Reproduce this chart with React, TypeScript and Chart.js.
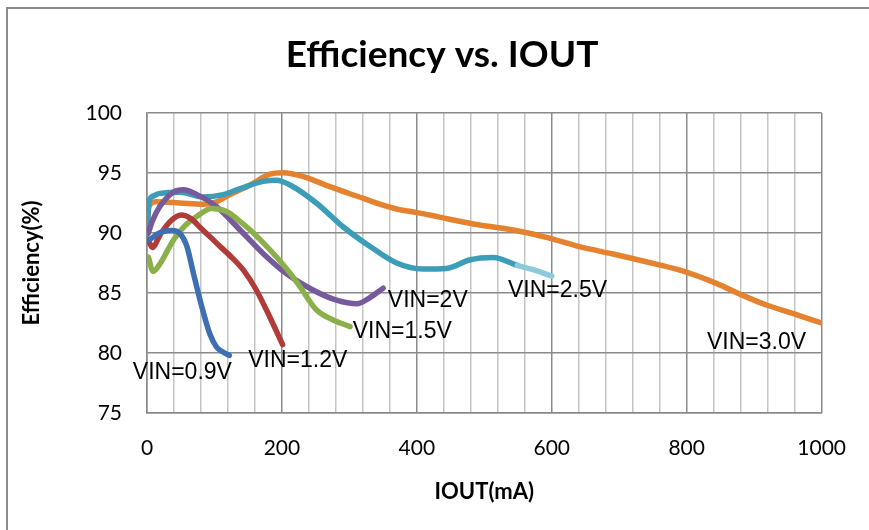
import React, { useEffect, useRef } from "react";
import { Chart, registerables } from "chart.js";

Chart.register(...registerables);

// ---- data ----
const titleText = "Efficiency vs. IOUT";
const xTitle = "IOUT(mA)";
const yTitle = "Efficiency(%)";

const seriesNames = ["VIN=0.9V", "VIN=1.2V", "VIN=1.5V", "VIN=2V", "VIN=2.5V", "VIN=3.0V"];

const iout09 = [2, 8, 15, 25, 37, 49, 59, 69, 81, 93, 103, 112, 122];
const eff09 = [89.4, 89.6, 89.9, 90.15, 90.2, 89.95, 88.9, 86.6, 83.9, 81.6, 80.5, 80.1, 79.8];

const iout12 = [2, 8, 20, 35, 51, 65, 80, 95, 108, 125, 143, 162, 182, 201];
const eff12 = [89.4, 88.8, 89.9, 91.0, 91.5, 91.2, 90.4, 89.6, 88.9, 88.0, 86.9, 85.25, 83.0, 80.7];

const iout15 = [2, 9, 20, 39, 56, 74, 96, 118, 135, 153, 172, 192, 210, 227, 251, 276, 301];
const eff15 = [88.0, 86.8, 87.5, 89.4, 90.6, 91.4, 92.05, 91.8, 91.1, 90.25, 89.2, 88.0, 86.8, 85.5, 83.6, 82.75, 82.2];

const iout20 = [2, 8, 19, 39, 54, 74, 103, 138, 172, 207, 246, 281, 311, 330, 350];
const eff20 = [90.0, 91.0, 92.2, 93.4, 93.6, 93.2, 92.2, 90.25, 88.3, 86.6, 85.25, 84.4, 84.1, 84.6, 85.4];

const iout25 = [0, 3, 10, 19, 49, 83, 113, 138, 172, 192, 212, 251, 291, 330, 370, 409, 444, 478, 513, 549, 575, 600];
const eff25 = [89.8, 92.6, 93.1, 93.3, 93.4, 93.0, 93.2, 93.7, 94.3, 94.4, 94.0, 92.5, 90.5, 88.9, 87.5, 87.0, 87.05, 87.75, 87.95, 87.3, 86.9, 86.4];

const iout30 = [0, 3, 14, 49, 83, 103, 123, 153, 182, 202, 232, 271, 320, 345, 370, 395, 419, 444, 493, 543, 592, 641, 691, 740, 790, 844, 883, 918, 957, 1000];
const eff30 = [89.9, 92.2, 92.6, 92.5, 92.4, 92.6, 93.2, 94.0, 94.9, 95.03, 94.7, 93.86, 92.9, 92.4, 92.0, 91.75, 91.5, 91.2, 90.67, 90.25, 89.64, 88.86, 88.25, 87.6, 86.9, 85.8, 84.8, 84.0, 83.3, 82.5];

// label anchor positions (data units: left edge x, vertical centre y)
const labelX = [-21, 150, 305, 357, 535, 830];
const labelY = [78.4, 79.4, 81.8, 84.4, 85.2, 80.9];

const xTicksMajor = [0, 200, 400, 600, 800, 1000];
const yTicks = [75, 80, 85, 90, 95, 100];

const colors = ["#3d6fb2", "#b03c3a", "#8bb04a", "#765a9c", "#3b9db7", "#e4822f"];
const lightTeal = "#8ecadc";

const xs = [iout09, iout12, iout15, iout20, iout25, iout30];
const ys = [eff09, eff12, eff15, eff20, eff25, eff30];

const PLOT_LEFT = 147;
const PLOT_RIGHT = 822;
const PLOT_TOP = 113;
const PLOT_BOTTOM = 413;
const W = 869;
const H = 530;

const FONT = "Lato, 'Open Sans', sans-serif";

const titlePlugin = {
  id: "customTitle",
  afterDraw(chart: any) {
    const ctx = chart.ctx;
    ctx.save();
    ctx.font = "bold 37px " + FONT;
    ctx.fillStyle = "#000";
    ctx.textAlign = "center";
    ctx.textBaseline = "middle";
    ctx.fillText(titleText, 442, 55);
    ctx.restore();
  },
};

const labelPlugin = {
  id: "seriesLabels",
  afterDatasetsDraw(chart: any) {
    const ctx = chart.ctx;
    const xs = chart.scales.x;
    const yscale = chart.scales.y;
    ctx.save();
    ctx.font = "23px 'Liberation Sans', Arial, sans-serif";
    ctx.fillStyle = "#000";
    ctx.textAlign = "left";
    ctx.textBaseline = "middle";
    seriesNames.forEach((name, i) => {
      ctx.fillText(name, xs.getPixelForValue(labelX[i]), yscale.getPixelForValue(labelY[i]));
    });
    ctx.restore();
  },
};

export default function App() {
  const ref = useRef<HTMLCanvasElement | null>(null);

  useEffect(() => {
    if (!ref.current) return;
    const datasets = seriesNames.map((name, i) => ({
      label: name,
      data: xs[i].map((x, j) => ({ x, y: ys[i][j] })),
      borderColor: colors[i],
      backgroundColor: colors[i],
      borderWidth: 5.5,
      pointRadius: 0,
      pointHoverRadius: 0,
      fill: false,
      cubicInterpolationMode: "monotone" as const,
      borderCapStyle: "round" as const,
      borderJoinStyle: "round" as const,
      segment:
        i === 4
          ? { borderColor: (c: any) => (c.p0.parsed.x >= 549 ? lightTeal : colors[4]) }
          : undefined,
    }));

    const chart = new Chart(ref.current, {
      type: "line",
      data: { datasets },
      options: {
        animation: false,
        responsive: false,
        events: [],
        layout: { padding: { left: 0, right: W - PLOT_RIGHT, top: PLOT_TOP, bottom: 0 } },
        plugins: {
          legend: { display: false },
          title: { display: false },
          tooltip: { enabled: false },
        },
        scales: {
          x: {
            type: "linear",
            min: 0,
            max: 1000,
            afterFit: (s: any) => {
              s.height = H - PLOT_BOTTOM;
            },
            afterBuildTicks: (s: any) => {
              const t = [];
              for (let v = 0; v <= 1000; v += 40) t.push({ value: v });
              s.ticks = t;
            },
            ticks: {
              autoSkip: false,
              maxRotation: 0,
              padding: 23,
              color: "#000",
              font: { family: FONT, size: 21 },
              callback: (v: any) => (xTicksMajor.includes(Number(v)) ? String(v) : ""),
            },
            grid: {
              drawTicks: false,
              color: (c: any) => (c.tick && c.tick.value % 200 === 0 ? "#8a8a8a" : "#c4c4c4"),
              lineWidth: 1.5,
            },
            border: { display: true, color: "#8a8a8a", width: 1.5 },
            title: {
              display: true,
              text: xTitle,
              color: "#000",
              font: { family: FONT, size: 22, weight: "bold" },
              padding: { top: 0, bottom: 25 },
            },
          },
          y: {
            type: "linear",
            min: 75,
            max: 100,
            afterFit: (s: any) => {
              s.width = PLOT_LEFT;
            },
            afterBuildTicks: (s: any) => {
              s.ticks = yTicks.map((v) => ({ value: v }));
            },
            ticks: {
              padding: 25,
              color: "#000",
              font: { family: FONT, size: 21 },
            },
            grid: { drawTicks: false, color: "#8a8a8a", lineWidth: 1.5 },
            border: { display: true, color: "#8a8a8a", width: 1.5 },
            title: {
              display: true,
              text: yTitle,
              color: "#000",
              font: { family: FONT, size: 22, weight: "bold" },
              padding: { top: 19, bottom: 0 },
            },
          },
        },
      },
      plugins: [titlePlugin, labelPlugin],
    });
    return () => chart.destroy();
  }, []);

  return (
    <div style={{ position: "fixed", left: 0, top: 0, width: W, height: H, background: "#fff", overflow: "hidden" }}>
      <canvas ref={ref} width={W} height={H} style={{ display: "block" }} />
      <div
        style={{
          position: "absolute",
          left: 6,
          top: 7,
          right: -10,
          bottom: -10,
          borderTop: "2px solid #8c8c8c",
          borderLeft: "2px solid #8c8c8c",
          pointerEvents: "none",
        }}
      />
    </div>
  );
}
